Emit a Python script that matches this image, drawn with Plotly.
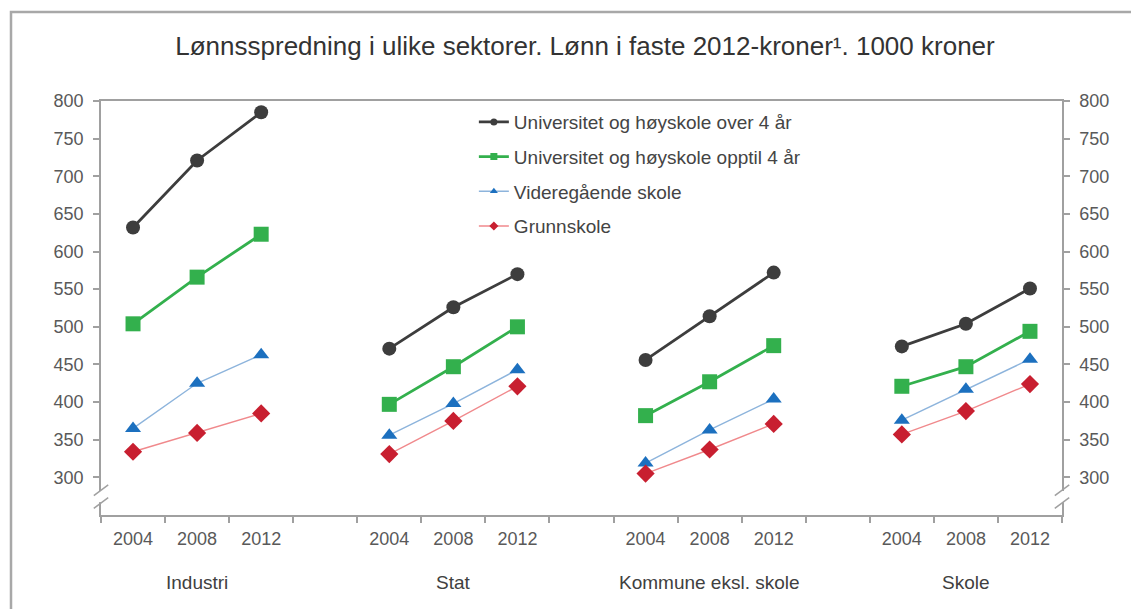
import plotly.graph_objects as go

# slots per sector: 2004, 2008, 2012 + one empty slot between sectors
sectors = ["Industri", "Stat", "Kommune eksl. skole", "Skole"]
years = ["2004", "2008", "2012"]

series_names = [
    "Universitet og høyskole over 4 år",
    "Universitet og høyskole opptil 4 år",
    "Videregående skole",
    "Grunnskole",
]

# values per sector, each list = 2004, 2008, 2012 (1000 kroner)
uni_over4 = [[632, 721, 785], [471, 526, 570], [456, 514, 572], [474, 504, 551]]
uni_til4 = [[504, 566, 623], [397, 447, 500], [382, 427, 475], [421, 447, 494]]
vgs = [[365, 425, 463], [356, 398, 443], [319, 363, 404], [376, 417, 457]]
grunn = [[334, 359, 385], [331, 375, 421], [305, 337, 371], [357, 388, 424]]

y_ticks = [300, 350, 400, 450, 500, 550, 600, 650, 700, 750, 800]

styles = [
    dict(line=dict(color="#3d3d3d", width=2.8),
         marker=dict(symbol="circle", size=14, color="#3d3d3d")),
    dict(line=dict(color="#33b04d", width=2.8),
         marker=dict(symbol="square", size=15, color="#33b04d")),
    dict(line=dict(color="#8db4dc", width=1.4),
         marker=dict(symbol="triangle-up", size=14, color="#1c70bf")),
    dict(line=dict(color="#f0898c", width=1.4),
         marker=dict(symbol="diamond", size=14, color="#c81f30")),
]
legend_marker = [
    dict(symbol="circle", size=7, color="#3d3d3d"),
    dict(symbol="square", size=7, color="#33b04d"),
    dict(symbol="triangle-up", size=7, color="#1c70bf"),
    dict(symbol="diamond", size=7, color="#c81f30"),
]

n_slots = len(sectors) * 4 - 1
fig = go.Figure()

for k, (name, data) in enumerate(zip(series_names, [uni_over4, uni_til4, vgs, grunn])):
    for g, vals in enumerate(data):
        xs = [g * 4 + i for i in range(len(years))]
        fig.add_trace(go.Scatter(
            x=xs, y=vals, mode="lines+markers", name=name,
            line=styles[k]["line"], marker=styles[k]["marker"],
            showlegend=False, legendgroup=name, hoverinfo="y",
        ))
    # small-marker entry for the legend
    fig.add_trace(go.Scatter(
        x=[None], y=[None], mode="lines+markers", name=name,
        line=styles[k]["line"], marker=legend_marker[k],
        showlegend=True, legendgroup=name,
    ))

# invisible trace for the right-hand axis
fig.add_trace(go.Scatter(x=[None], y=[None], yaxis="y2", showlegend=False))

year_pos = [g * 4 + i for g in range(len(sectors)) for i in range(len(years))]
year_txt = [y for g in range(len(sectors)) for y in years]
bounds = [b - 0.5 for b in range(n_slots + 1)]

axis_col = "#a0a0a0"
base_font = "Liberation Sans, Arial, sans-serif"
tick_font = dict(family=base_font, size=18, color="#595959")

# page has an 8px body margin, so the figure is drawn 8px right/down
fig.update_layout(
    width=1139, height=609,
    margin=dict(l=93, r=85, t=93, b=102),
    paper_bgcolor="white", plot_bgcolor="white",
    title=dict(
        text="Lønnsspredning i ulike sektorer. Lønn i faste 2012-kroner¹. 1000 kroner",
        x=577 / 1139, xref="container", y=1 - 38 / 609, yref="container",
        xanchor="center", yanchor="middle",
        font=dict(family=base_font, size=26, color="#333333"),
    ),
    xaxis=dict(
        range=[-0.5, n_slots - 0.5], tickvals=year_pos, ticktext=year_txt,
        ticks="", showgrid=False, zeroline=False,
        showline=True, linecolor=axis_col, linewidth=1.5, mirror=True,
        tickfont=tick_font, ticklabelstandoff=7,
        minor=dict(tickvals=bounds, ticks="outside", ticklen=6, tickcolor=axis_col, tickwidth=1.5),
    ),
    yaxis=dict(
        range=[250, 800], tickvals=y_ticks, ticks="outside", ticklen=6,
        tickcolor=axis_col, tickwidth=1.5, showgrid=False, zeroline=False,
        showline=True, linecolor=axis_col, linewidth=1.5,
        tickfont=tick_font, ticklabelstandoff=6,
    ),
    yaxis2=dict(
        range=[250, 800], tickvals=y_ticks, ticks="outside", ticklen=6,
        tickcolor=axis_col, tickwidth=1.5, showgrid=False, zeroline=False,
        showline=True, linecolor=axis_col, linewidth=1.5,
        overlaying="y", side="right", anchor="x",
        tickfont=tick_font, ticklabelstandoff=6,
    ),
    legend=dict(
        x=0.388, y=0.995, xanchor="left", yanchor="top",
        bgcolor="rgba(0,0,0,0)", traceorder="grouped", tracegroupgap=7,
        font=dict(family=base_font, size=19, color="#444444"),
    ),
)

# sector labels under the years
for g, s in enumerate(sectors):
    fig.add_annotation(
        x=g * 4 + 1, y=-0.162, xref="x", yref="paper", text=s, showarrow=False,
        font=dict(family=base_font, size=19, color="#404040"),
        xanchor="center", yanchor="middle",
    )

# axis-break marks on both y axes
for xd in [0, 1]:
    fig.add_shape(type="rect", xref="x domain", yref="paper",
                  x0=xd - 0.006, x1=xd + 0.006, y0=0.031, y1=0.058,
                  fillcolor="white", line=dict(width=0), layer="above")
    for yc in [0.029, 0.060]:
        fig.add_shape(type="line", xref="x domain", yref="paper",
                      x0=xd - 0.0075, x1=xd + 0.0075, y0=yc - 0.013, y1=yc + 0.013,
                      line=dict(color=axis_col, width=1.5), layer="above")

# outer frame of the figure
fig.add_shape(type="rect", xref="paper", yref="paper",
              x0=(11 - 101) / 961, x1=1.2, y0=-0.4, y1=(515 - 12) / 414,
              line=dict(color="#a8a8a8", width=2.5), fillcolor="rgba(0,0,0,0)", layer="below")

fig.write_html("out.html")
